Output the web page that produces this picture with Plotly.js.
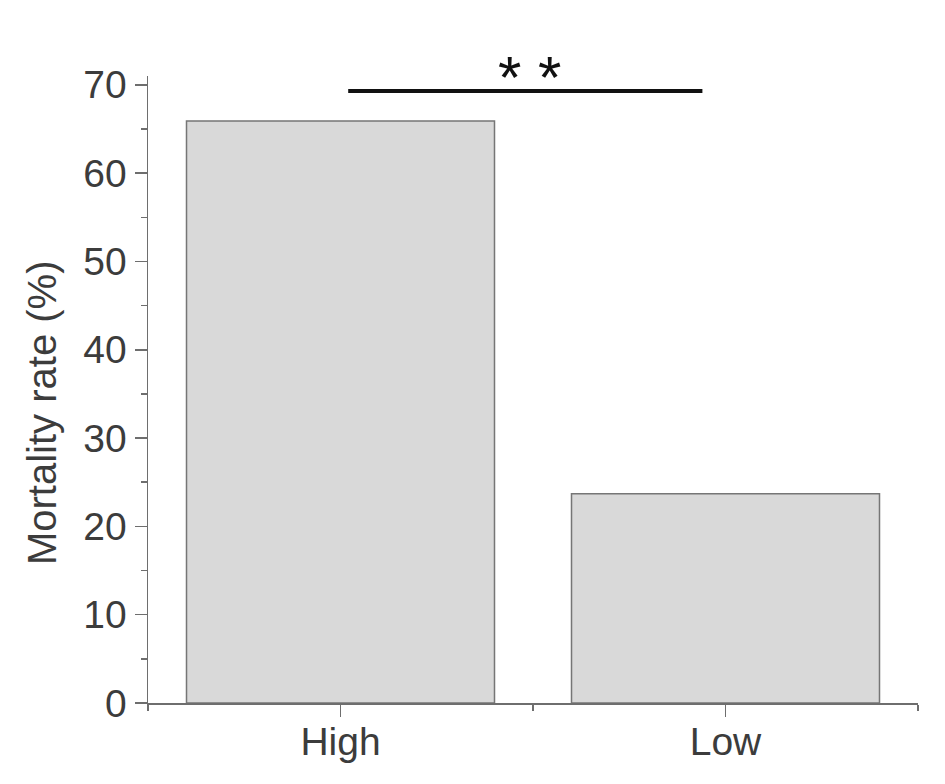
<!DOCTYPE html>
<html>
<head>
<meta charset="utf-8">
<script src="https://cdn.plot.ly/plotly-3.0.1.min.js"></script>
<style>html,body{margin:0;padding:0;background:#fff;}#chart{width:945px;height:784px;}</style>
</head>
<body>
<div id="chart"></div>
<script>
const categories = ['High', 'Low'];
const mortalityRate = [65.9, 23.7];
const significanceLabel = '* *';
const significanceLevel = 69.3;
const yAxisTitle = 'Mortality rate (%)';

const positions = categories.map((c, i) => i);
const axisColor = '#6e6e6e';
const textColor = '#3c3c3c';
const font = 'Liberation Sans, Arial, sans-serif';

const trace = {
  type: 'bar',
  x: positions,
  y: mortalityRate,
  width: 0.8,
  marker: {color: '#d9d9d9', line: {color: '#767676', width: 1.5}},
  hoverinfo: 'skip'
};

const layout = {
  width: 945, height: 784,
  margin: {l: 148, r: 27, t: 76, b: 81},
  paper_bgcolor: '#fff', plot_bgcolor: '#fff',
  showlegend: false,
  font: {family: font, color: textColor},
  xaxis: {
    range: [-0.5, 1.5],
    tickmode: 'array', tickvals: positions, ticktext: categories,
    ticks: 'outside', ticklen: 12, tickwidth: 1.5, tickcolor: axisColor,
    ticklabelstandoff: -8,
    minor: {tickmode: 'array', tickvals: [-0.5, 0.5, 1.5], ticks: 'outside', ticklen: 6, tickwidth: 1.5, tickcolor: axisColor, showgrid: false},
    showline: true, linecolor: axisColor, linewidth: 1.5,
    showgrid: false, zeroline: false,
    tickfont: {size: 39, color: textColor, family: font}
  },
  yaxis: {
    range: [0, 71],
    tickmode: 'linear', tick0: 0, dtick: 10,
    ticks: 'outside', ticklen: 12, tickwidth: 1.5, tickcolor: axisColor,
    minor: {tickmode: 'linear', tick0: 5, dtick: 10, ticks: 'outside', ticklen: 6, tickwidth: 1.5, tickcolor: axisColor, showgrid: false},
    showline: true, linecolor: axisColor, linewidth: 1.5,
    showgrid: false, zeroline: false,
    tickfont: {size: 39, color: textColor, family: font}
  },
  shapes: [{
    type: 'line', xref: 'x', yref: 'y',
    x0: 0.02, x1: 0.94, y0: significanceLevel, y1: significanceLevel,
    line: {color: '#111', width: 4}
  }],
  annotations: [{
    xref: 'x', yref: 'y', x: 0.49, y: significanceLevel,
    text: significanceLabel, showarrow: false,
    yanchor: 'bottom', yshift: -22,
    font: {size: 60, color: '#111', family: font}
  }, {
    xref: 'paper', yref: 'paper', x: -0.1377, y: 0.464,
    xanchor: 'center', yanchor: 'middle', textangle: -90,
    text: yAxisTitle, showarrow: false,
    font: {size: 40, color: textColor, family: font}
  }]
};

Plotly.newPlot('chart', [trace], layout, {displayModeBar: false, staticPlot: true});
</script>
</body>
</html>
